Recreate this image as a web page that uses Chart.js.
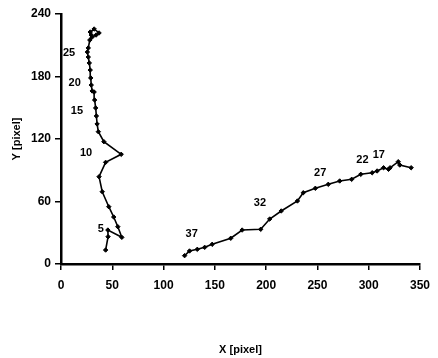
<!DOCTYPE html>
<html>
<head>
<meta charset="utf-8">
<script src="https://cdn.jsdelivr.net/npm/chart.js@4"></script>
<style>
  html, body { margin: 0; padding: 0; background: #fff; }
  #wrap { width: 438px; height: 358px; }
</style>
</head>
<body>
<div id="wrap"><canvas id="trackChart"></canvas></div>
<script>
// left track (bottom to top)
const leftX = [43.5, 45.9, 45.7, 59.3, 55.4, 51.4, 46.6, 40.2, 37.1, 43.5, 58.7, 41.8, 36.4, 35.2, 34.5,
  33.8, 32.8, 32.3, 30.4, 29.5, 29.0, 28.5, 27.6, 26.6, 25.7, 26.6, 28.1, 29.5, 28.5, 32.3, 37.1, 34.2, 30.4];
const leftY = [13.4, 26.2, 32.6, 25.6, 35.8, 45.1, 55.0, 69.4, 83.8, 97.6, 105.3, 117.4, 127.0, 134.4, 142.1,
  149.8, 157.4, 165.1, 166.1, 171.8, 178.6, 186.2, 193.0, 198.7, 203.5, 207.4, 215.0, 219.8, 222.7, 225.6, 221.8, 219.8, 217.9];

// right track (right to left)
const rightX = [341.4, 330.3, 328.8, 320.8, 319.3, 314.5, 308.2, 303.4, 292.3, 283.4, 271.7, 260.6, 248.0,
  236.2, 230.5, 214.7, 203.5, 194.7, 176.6, 165.5, 147.4, 140.1, 132.9, 125.3, 120.5];
const rightY = [92.4, 95.0, 98.2, 92.4, 90.9, 92.4, 89.3, 87.6, 86.1, 81.3, 79.7, 76.5, 72.7,
  68.4, 60.5, 50.9, 43.2, 33.3, 32.6, 24.7, 18.9, 16.0, 14.1, 12.5, 8.0];

// frame number annotations
const frameText = ['5', '10', '15', '20', '25', '17', '22', '27', '32', '37'];
const frameX = [38.7, 24.4, 15.5, 13.3, 7.9, 309.8, 293.9, 252.7, 194.0, 127.4];
const frameY = [33.6, 106.3, 146.9, 174.0, 202.2, 104.6, 99.8, 87.6, 58.8, 28.5];

const xTicks = [0, 50, 100, 150, 200, 250, 300, 350];
const yTicks = [0, 60, 120, 180, 240];

const toPoints = (xs, ys) => xs.map((x, i) => ({ x, y: ys[i] }));

const FONT = 'Liberation Sans, Arial, sans-serif';

const frameLabels = {
  id: 'frameLabels',
  afterDatasetsDraw(chart) {
    const { ctx, scales } = chart;
    ctx.save();
    ctx.fillStyle = '#000';
    ctx.font = 'bold 11px ' + FONT;
    ctx.textAlign = 'center';
    ctx.textBaseline = 'middle';
    frameText.forEach((t, i) => {
      ctx.fillText(t, scales.x.getPixelForValue(frameX[i]), scales.y.getPixelForValue(frameY[i]));
    });
    ctx.restore();
  }
};

const trackStyle = {
  showLine: true,
  borderColor: '#000',
  backgroundColor: '#000',
  borderWidth: 1.6,
  pointStyle: 'rectRot',
  pointRadius: 2.2,
  pointBorderWidth: 1
};

new Chart(document.getElementById('trackChart'), {
  type: 'scatter',
  data: {
    datasets: [
      { label: 'left', data: toPoints(leftX, leftY), ...trackStyle },
      { label: 'right', data: toPoints(rightX, rightY), ...trackStyle }
    ]
  },
  options: {
    responsive: true,
    maintainAspectRatio: false,
    animation: false,
    layout: { padding: { left: 10, top: 14, right: 9, bottom: 0 } },
    plugins: {
      legend: { display: false },
      tooltip: { enabled: false }
    },
    scales: {
      x: {
        type: 'linear',
        min: 0,
        max: 350,
        afterBuildTicks: (s) => { s.ticks = xTicks.map(v => ({ value: v })); },
        afterFit: (s) => { s.height = 94; },
        border: { color: '#000', width: 2.5 },
        grid: { drawOnChartArea: false, color: '#000', tickLength: 6, lineWidth: 1.5 },
        ticks: { color: '#000', padding: 8, font: { family: FONT, size: 12, weight: 'bold' } },
        title: { display: true, text: 'X [pixel]', color: '#000', padding: { top: 4, bottom: 1 },
          font: { family: FONT, size: 11, weight: 'bold' } }
      },
      y: {
        type: 'linear',
        min: 0,
        max: 240,
        afterBuildTicks: (s) => { s.ticks = yTicks.map(v => ({ value: v })); },
        afterFit: (s) => { s.width = 51; },
        border: { color: '#000', width: 2.5 },
        grid: { drawOnChartArea: false, color: '#000', tickLength: 6, lineWidth: 1.5 },
        ticks: { color: '#000', padding: 4, font: { family: FONT, size: 12, weight: 'bold' } },
        title: { display: true, text: 'Y [pixel]', color: '#000', padding: { top: 0, bottom: 4 },
          font: { family: FONT, size: 11, weight: 'bold' } }
      }
    }
  },
  plugins: [frameLabels]
});
</script>
</body>
</html>
